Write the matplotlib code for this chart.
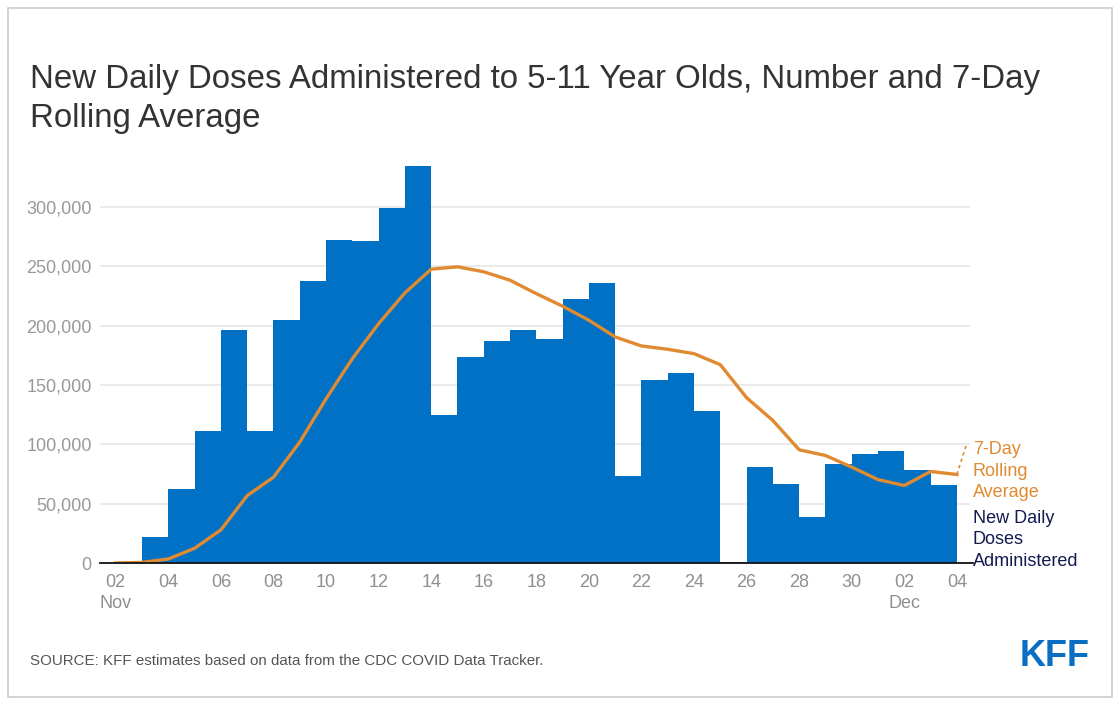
import matplotlib
matplotlib.use("Agg")
import matplotlib.pyplot as plt
from matplotlib.patches import Rectangle

plt.rcParams['font.family'] = ['Liberation Sans', 'DejaVu Sans']

# Days from Nov 2 (index 0) to Dec 4 (index 32)
dates = ["Nov 02", "Nov 03", "Nov 04", "Nov 05", "Nov 06", "Nov 07", "Nov 08", "Nov 09",
         "Nov 10", "Nov 11", "Nov 12", "Nov 13", "Nov 14", "Nov 15", "Nov 16", "Nov 17",
         "Nov 18", "Nov 19", "Nov 20", "Nov 21", "Nov 22", "Nov 23", "Nov 24", "Nov 25",
         "Nov 26", "Nov 27", "Nov 28", "Nov 29", "Nov 30", "Dec 01", "Dec 02", "Dec 03", "Dec 04"]

# New daily doses (bar for each day spans that day to the next)
daily_doses = [0, 21700, 62500, 110900, 196700, 111100, 204800, 237800,
               272100, 271500, 298800, 334800, 124900, 173600, 187400, 196400,
               189100, 222300, 236100, 73700, 154500, 160400, 128300, 500,
               81300, 66700, 38500, 83600, 92000, 94800, 78500, 65600]

# 7-day rolling average (point at each date)
rolling_avg = [0, 500, 3400, 12400, 27900, 56800, 72300, 101900,
               138400, 172200, 201700, 227600, 247600, 249600, 245400, 238300,
               227000, 216400, 204600, 190500, 182900, 180100, 176400, 167100,
               139300, 120100, 95400, 90600, 80800, 70300, 65300, 77100, 74600]

tick_labels = ["02\nNov", "04", "06", "08", "10", "12", "14", "16", "18", "20",
               "22", "24", "26", "28", "30", "02\nDec", "04"]
y_ticks = [0, 50000, 100000, 150000, 200000, 250000, 300000]

title_lines = ["New Daily Doses Administered to 5-11 Year Olds, Number and 7-Day",
               "Rolling Average"]
source_text = "SOURCE: KFF estimates based on data from the CDC COVID Data Tracker."

BLUE = '#0071c5'
ORANGE = '#e08a31'
NAVY = '#131a4f'
GRAY = '#999999'

fig = plt.figure(figsize=(11.2, 7.05), dpi=100)
W, H = 1120, 705

# outer border
fig.patches.append(Rectangle((8 / W, 8 / H), 1104 / W, 689 / H, transform=fig.transFigure,
                             fill=False, edgecolor='#cccccc', linewidth=1.2))

ax = fig.add_axes([100 / W, 1 - 563 / H, 870 / W, (563 - 153.6) / H])
ax.set_xlim(-0.6, 32.5)
ax.set_ylim(0, 345000)

x_bars = list(range(len(daily_doses)))
ax.bar(x_bars, daily_doses, width=1.0, align='edge', color=BLUE, linewidth=0, zorder=2)
x_line = list(range(len(rolling_avg)))
ax.plot(x_line, rolling_avg, color=ORANGE, linewidth=2.4, zorder=3, solid_joinstyle='round')

# grid and axes styling
ax.set_yticks(y_ticks)
ax.set_yticklabels([f"{v:,}" for v in y_ticks])
ax.yaxis.grid(True, color='#e6e6e6', linewidth=1.2, zorder=0)
ax.set_axisbelow(True)
for s in ax.spines.values():
    s.set_visible(False)
ax.tick_params(axis='y', length=0, pad=6, labelsize=13, labelcolor=GRAY)
ax.set_xticks(list(range(0, 33, 2)))
ax.set_xticklabels(tick_labels, ha='center', multialignment='center', linespacing=1.3)
ax.tick_params(axis='x', length=0, pad=8, labelsize=13, labelcolor='#8f8f8f')

# baseline
ax.plot([-0.6, 32.62], [0, 0], color='#111111', linewidth=1.3, zorder=4, clip_on=False)

# direct labels
ax.plot([32, 32.38], [rolling_avg[-1], 101000], color=ORANGE, linewidth=1.2,
        linestyle=(0, (2, 2)), clip_on=False, zorder=4)
ax.text(32.6, 102500, "7-Day\nRolling\nAverage", color=ORANGE, fontsize=13,
        va='top', ha='left', linespacing=1.32)
ax.text(32.6, 44500, "New Daily\nDoses\nAdministered", color=NAVY, fontsize=13,
        va='top', ha='left', linespacing=1.32)

# title
fig.text(30 / W, 1 - 88 / H, title_lines[0], fontsize=23.8, color='#333333',
         va='baseline', ha='left')
fig.text(30 / W, 1 - 127 / H, title_lines[1], fontsize=23.8, color='#333333',
         va='baseline', ha='left')

# source
fig.text(30 / W, 1 - 661 / H, source_text, fontsize=10.9, color='#555555',
         va='center', ha='left')

# logo
fig.text(1090 / W, 1 - 657 / H, "KFF", fontsize=26, fontweight='bold', color='#0a6fc2',
         va='center', ha='right')

fig.savefig("out.png", dpi=100)
